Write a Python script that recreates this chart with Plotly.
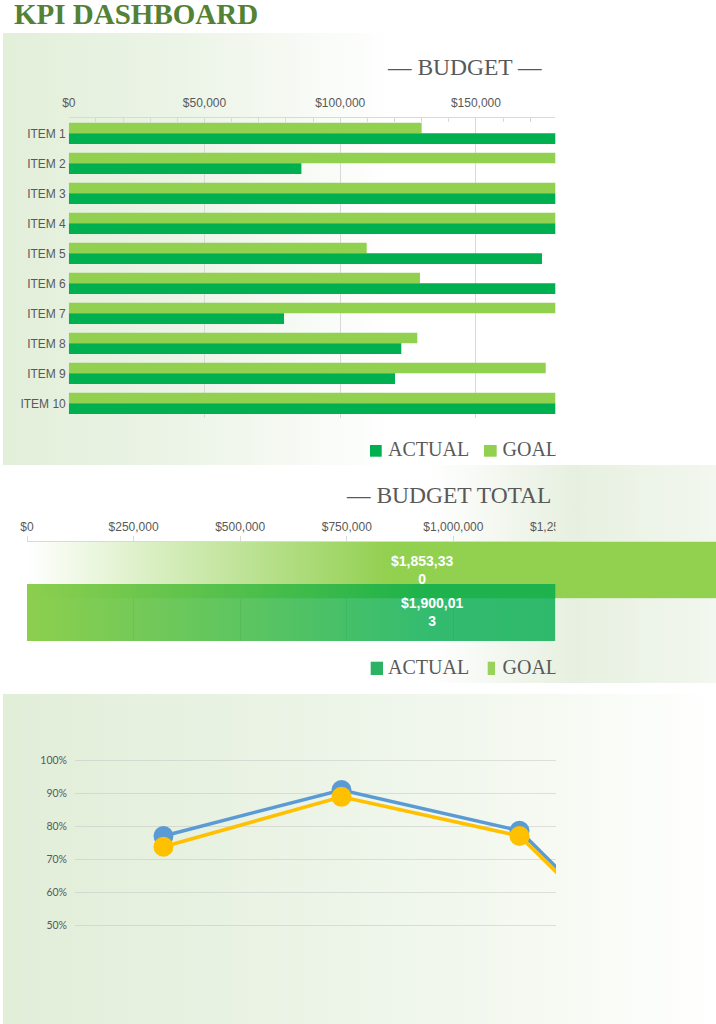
import base64
import plotly.graph_objects as go

# ---------------- data ----------------
items = ["ITEM 1", "ITEM 2", "ITEM 3", "ITEM 4", "ITEM 5",
         "ITEM 6", "ITEM 7", "ITEM 8", "ITEM 9", "ITEM 10"]
goal = [130000, 225000, 245000, 260000, 109760, 129400, 210000, 128400, 175720, 240050]
actual = [250000, 85700, 280000, 275000, 174350, 240000, 79300, 122510, 120190, 272963]
total_goal = sum(goal)        # 1,853,330
total_actual = sum(actual)    # 1,900,013

budget_ticks = [0, 50000, 100000, 150000]
total_ticks = [0, 250000, 500000, 750000, 1000000, 1250000]

kpi_periods = ["Q1", "Q2", "Q3", "Q4"]
kpi_blue = [0.771, 0.911, 0.787, 0.25]
kpi_yellow = [0.738, 0.890, 0.771, 0.24]
pct_ticks = [0.5, 0.6, 0.7, 0.8, 0.9, 1.0]

legend_labels = ["ACTUAL", "GOAL"]

# ---------------- style ----------------
W, H = 716, 1024
SANS = "Liberation Sans, Arial, sans-serif"
SERIF = "Liberation Serif, Times New Roman, serif"
LATO = "Lato, sans-serif"
LABEL = "#595959"
GRID = "#D9D9D9"
GOAL_C = "#92D050"
ACT_C = "#00B050"
GOAL_BAND = (-0.5, 0.07)
ACT_BAND = (-0.073, 0.5)


def fx(p):
    return p / W


def fy(p):
    return 1 - p / H


def money(v):
    return f"${v:,}"


def wrapped(v):
    s = money(v)
    return s[:9] + "<br>" + s[9:]


def gradient_uri(x0, y0, x1, y1, stops, view=None):
    vx, vy, vw, vh = view or (x0, y0, x1 - x0, y1 - y0)
    st = "".join(f'<stop offset="{o}" stop-color="{c}"/>' for o, c in stops)
    svg = (f'<svg xmlns="http://www.w3.org/2000/svg" width="{vw}" height="{vh}" '
           f'viewBox="{vx} {vy} {vw} {vh}" preserveAspectRatio="none">'
           f'<defs><linearGradient id="g" gradientUnits="userSpaceOnUse" x1="{x0}" y1="0" x2="{x1}" y2="0">{st}'
           f'</linearGradient></defs><rect x="{x0}" y="{y0}" width="{x1 - x0}" height="{y1 - y0}" fill="url(#g)"/></svg>')
    return "data:image/svg+xml;base64," + base64.b64encode(svg.encode()).decode()


def image(uri, x, y, w, h, layer):
    return dict(source=uri, xref="paper", yref="paper", x=fx(x), y=fy(y), sizex=w / W, sizey=h / H,
                xanchor="left", yanchor="top", sizing="stretch", layer=layer)


P1 = (3, 33, 716, 465)
P1_STOPS = [(0, "#E2EFD9"), (0.25, "#ECF4E7"), (0.55, "#FFFFFF"), (1, "#FFFFFF")]
P2 = (0, 465, 716, 683)
P2_STOPS = [(0, "#FFFFFF"), (0.6, "#FFFFFF"), (0.8, "#E7F0E0"), (1, "#F2F7EF")]
P3 = (3, 694, 716, 1024)
P3_STOPS = [(0, "#E1EED8"), (0.45, "#ECF4E7"), (0.78, "#F6FAF3"), (1, "#FFFFFF")]


def band_poly(value, band):
    b0, b1 = band
    return [0, value, value, 0, 0], [b0, b0, b1, b1, b0]


fig = go.Figure()

# ---- panel 1: budget by item ----
fig.add_trace(go.Bar(name="GOAL", y=items, x=goal, orientation="h", marker=dict(color=GOAL_C, line=dict(width=0)),
                     xaxis="x", yaxis="y", hoverinfo="skip"))
fig.add_trace(go.Bar(name="ACTUAL", y=items, x=actual, orientation="h", marker=dict(color=ACT_C, line=dict(width=0)),
                     xaxis="x", yaxis="y", hoverinfo="skip"))

# ---- panel 2: budget total ----
gx, gy = band_poly(total_goal, GOAL_BAND)
fig.add_trace(go.Scatter(x=gx, y=gy, xaxis="x2", yaxis="y2", mode="lines", fill="toself",
                         line=dict(width=0, color="rgba(0,0,0,0)"),
                         fillgradient=dict(type="horizontal", colorscale=[[0, "#FFFFFF"], [1, GOAL_C]],
                                           start=0, stop=850000),
                         hoverinfo="skip", name="GOAL TOTAL"))
ax_, ay_ = band_poly(total_actual, ACT_BAND)
fig.add_trace(go.Scatter(x=ax_, y=ay_, xaxis="x3", yaxis="y2", mode="lines", fill="toself",
                         line=dict(width=0, color="rgba(0,0,0,0)"), opacity=0.8,
                         fillgradient=dict(type="horizontal", colorscale=[[0, "#70C322"], [1, "#00AB4C"]],
                                           start=0, stop=950000),
                         hoverinfo="skip", name="ACTUAL TOTAL"))

# ---- panel 3: KPI lines ----
fig.add_trace(go.Scatter(x=kpi_periods, y=kpi_blue, xaxis="x4", yaxis="y4", mode="lines+markers",
                         line=dict(color="#5B9BD5", width=3.5), marker=dict(size=20, color="#5B9BD5"),
                         hoverinfo="skip", name="Actual"))
fig.add_trace(go.Scatter(x=kpi_periods, y=kpi_yellow, xaxis="x4", yaxis="y4", mode="lines+markers",
                         line=dict(color="#FFC000", width=3.5), marker=dict(size=20, color="#FFC000"),
                         hoverinfo="skip", name="Goal"))

# ---- legend labels (clipped at the chart's right edge) ----
fig.add_trace(go.Scatter(x=[388, 502.5, 388, 502.5], y=[450.5, 450.5, 668.5, 668.5],
                         text=legend_labels * 2, mode="text", textposition="middle right",
                         textfont=dict(family=SERIF, size=20, color=LABEL), cliponaxis=True,
                         xaxis="x5", yaxis="y5", hoverinfo="skip"))

images = [
    image(gradient_uri(*P1, P1_STOPS), P1[0], P1[1], P1[2] - P1[0], P1[3] - P1[1], "below"),
    image(gradient_uri(*P2, P2_STOPS), P2[0], P2[1], P2[2] - P2[0], P2[3] - P2[1], "below"),
    image(gradient_uri(*P3, P3_STOPS), P3[0], P3[1], P3[2] - P3[0], P3[3] - P3[1], "below"),
    # overlays clipping the total chart at its right edge
    image(gradient_uri(*P2, P2_STOPS, view=(555.5, 508, 160.5, 32)), 555.5, 508, 160.5, 32, "above"),
    image(gradient_uri(*P2, P2_STOPS, view=(555.5, 598.8, 160.5, 46)), 555.5, 598.8, 160.5, 46, "above"),
]

shapes = [
    dict(type="rect", xref="paper", yref="paper", x0=fx(370), x1=fx(381.7), y0=fy(456.7), y1=fy(445),
         fillcolor=ACT_C, line=dict(width=0)),
    dict(type="rect", xref="paper", yref="paper", x0=fx(484), x1=fx(496.7), y0=fy(456.7), y1=fy(445),
         fillcolor=GOAL_C, line=dict(width=0)),
    dict(type="rect", xref="paper", yref="paper", x0=fx(370.7), x1=fx(383), y0=fy(675), y1=fy(661.7),
         fillcolor="#2BB262", line=dict(width=0)),
    dict(type="rect", xref="paper", yref="paper", x0=fx(487.7), x1=fx(495), y0=fy(675), y1=fy(661.7),
         fillcolor="#9AD35C", line=dict(width=0)),
]

annotations = [
    dict(text="KPI DASHBOARD", xref="paper", yref="paper", x=fx(12), y=fy(13.5), xanchor="left", yanchor="middle",
         showarrow=False, font=dict(family=SERIF, size=29, color="#538135", weight="bold")),
    dict(text="— BUDGET —", xref="paper", yref="paper", x=fx(464.5), y=fy(67), xanchor="center",
         yanchor="middle", showarrow=False, font=dict(family=SERIF, size=23.5, color=LABEL)),
    dict(text="— BUDGET TOTAL", xref="paper", yref="paper", x=fx(344), y=fy(494.5), xanchor="left",
         yanchor="middle", showarrow=False, font=dict(family=SERIF, size=23.5, color=LABEL)),
    dict(text=f"<b>{wrapped(total_goal)}</b>", xref="x2", yref="y2", x=total_goal / 2, y=sum(GOAL_BAND) / 2,
         showarrow=False, align="center", font=dict(family=SANS, size=14, color="white")),
    dict(text=f"<b>{wrapped(total_actual)}</b>", xref="x3", yref="y2", x=total_actual / 2, y=sum(ACT_BAND) / 2,
         showarrow=False, align="center", font=dict(family=SANS, size=14, color="white")),
]

tickfont = dict(family=SANS, size=12, color=LABEL)

fig.update_layout(
    width=W, height=H, margin=dict(l=0, r=0, t=0, b=0, autoexpand=False),
    paper_bgcolor="white", plot_bgcolor="rgba(0,0,0,0)",
    barmode="group", bargap=0.29, bargroupgap=0, showlegend=False,
    images=images, shapes=shapes, annotations=annotations,
    xaxis=dict(domain=[fx(68.8), fx(555.3)], range=[0, 179250], side="top", anchor="y", automargin=False,
               tickmode="array", tickvals=budget_ticks, ticktext=[money(v) for v in budget_ticks],
               showgrid=True, gridcolor=GRID, gridwidth=1, zeroline=False,
               showline=True, linecolor=GRID, linewidth=1, ticks="",
               minor=dict(tickmode="array", tickvals=list(range(10000, 180000, 10000)), ticks="inside",
                          ticklen=4, tickcolor=GRID, showgrid=False),
               tickfont=tickfont, ticklabelstandoff=6, fixedrange=True),
    yaxis=dict(domain=[fy(418.3), fy(118.3)], anchor="x", type="category", autorange="reversed", automargin=False,
               showgrid=False, zeroline=False, showline=False, ticks="", tickfont=tickfont,
               ticklabelstandoff=2, fixedrange=True),
    # goal total axis (wide) carries the labels and grid
    xaxis2=dict(domain=[fx(27), 1.0], range=[0, (716 - 27) / 106.6 * 250000], anchor="y2", side="top",
                automargin=False,
                tickmode="array", tickvals=total_ticks, ticktext=[money(v) for v in total_ticks],
                showgrid=True, gridcolor=GRID, zeroline=False, showline=False, ticks="",
                tickfont=tickfont, ticklabelstandoff=7, fixedrange=True),
    # actual total axis (clipped) carries the axis line and tick marks
    xaxis3=dict(domain=[fx(27), fx(555.3)], range=[0, (555.3 - 27) / 106.6 * 250000], anchor="y2", side="top",
                automargin=False,
                tickmode="array", tickvals=total_ticks, showticklabels=False,
                showgrid=False, zeroline=False, showline=True, linecolor=GRID, ticks="outside", ticklen=5,
                tickcolor=GRID, fixedrange=True),
    yaxis2=dict(domain=[fy(641), fy(541.5)], anchor="x2", range=[0.5, -0.5], visible=False, automargin=False,
                fixedrange=True),
    xaxis4=dict(domain=[fx(75), fx(556)], anchor="y4", type="category", range=[-0.497, 2.205], automargin=False,
                showgrid=False, zeroline=False, showline=False, showticklabels=False, ticks="", fixedrange=True),
    yaxis4=dict(domain=[fy(940), fy(745)], anchor="x4", range=[0.4544, 1.0478], automargin=False,
                tickmode="array", tickvals=pct_ticks, tickformat=".0%",
                showgrid=True, gridcolor="rgba(190,190,190,0.45)", gridwidth=1.3, zeroline=False, showline=False,
                ticks="", tickfont=dict(family=LATO, size=10.5, color=LABEL), ticklabelstandoff=7,
                fixedrange=True),
    xaxis5=dict(domain=[0, fx(555.5)], range=[0, 555.5], anchor="y5", visible=False, automargin=False,
                fixedrange=True),
    yaxis5=dict(domain=[0, 1], range=[1024, 0], anchor="x5", visible=False, automargin=False, fixedrange=True),
)

fig.write_html("out.html")
